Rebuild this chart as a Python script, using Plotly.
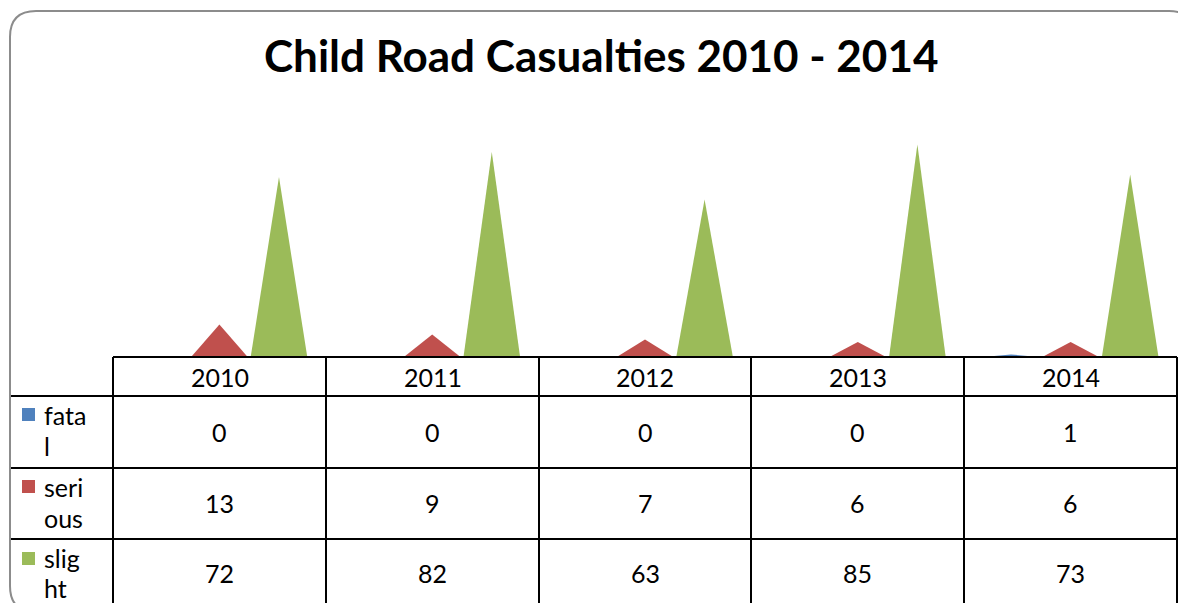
import plotly.graph_objects as go

# ---- data ----
years = ["2010", "2011", "2012", "2013", "2014"]
series_names = ["fatal", "serious", "slight"]
legend_lines = [["fata", "l"], ["seri", "ous"], ["slig", "ht"]]
fatal = [0, 0, 0, 0, 1]
serious = [13, 9, 7, 6, 6]
slight = [72, 82, 63, 85, 73]
title_text = "Child Road Casualties 2010 - 2014"

colors = ["#4F81BD", "#C0504D", "#9BBB59"]
series_values = [fatal, serious, slight]

W, H = 1178, 603
FONT = "Lato"


def px(x):
    return x / W


def py(y):
    return 1 - y / H


fig = go.Figure()

offsets = [-0.28, 0.0, 0.28]
half = 0.133
for vals, color, name, off in zip(series_values, colors, series_names, offsets):
    for i, v in enumerate(vals):
        fig.add_trace(go.Scatter(
            x=[i + off - half, i + off, i + off + half, i + off - half],
            y=[0, v, 0, 0],
            fill="toself", mode="lines",
            line=dict(width=0, color=color), fillcolor=color,
            name=name, showlegend=False, hoverinfo="skip",
        ))

# table geometry (pixels)
col_edges = [113, 326, 539, 751, 964, 1177]
row_edges = [357, 396, 468, 539, 620]

shapes = []
line_style = dict(color="black", width=2)
shapes.append(dict(type="line", xref="paper", yref="paper",
                   x0=px(113), x1=px(1177), y0=py(357), y1=py(357), line=line_style))
for r in row_edges[1:4]:
    shapes.append(dict(type="line", xref="paper", yref="paper",
                       x0=px(10), x1=px(1177), y0=py(r), y1=py(r), line=line_style))
for c in col_edges:
    shapes.append(dict(type="line", xref="paper", yref="paper",
                       x0=px(c), x1=px(c), y0=py(357), y1=py(620), line=line_style))

# rounded frame (extends past the right and bottom edges)
L, T, R, B, rad = 10, 11, 1195, 612, 26
path = (f"M {px(L+rad)},{py(T)} L {px(R-rad)},{py(T)} Q {px(R)},{py(T)} {px(R)},{py(T+rad)} "
        f"L {px(R)},{py(B-rad)} Q {px(R)},{py(B)} {px(R-rad)},{py(B)} "
        f"L {px(L+rad)},{py(B)} Q {px(L)},{py(B)} {px(L)},{py(B-rad)} "
        f"L {px(L)},{py(T+rad)} Q {px(L)},{py(T)} {px(L+rad)},{py(T)} Z")
shapes.append(dict(type="path", xref="paper", yref="paper", path=path,
                   line=dict(color="#8c8c8c", width=2)))

# legend keys
key_tops = [408, 480, 552]
for kt, color in zip(key_tops, colors):
    shapes.append(dict(type="rect", xref="paper", yref="paper",
                       x0=px(22), x1=px(35), y0=py(kt), y1=py(kt + 13),
                       fillcolor=color, line=dict(width=0)))

annotations = []
annotations.append(dict(text=f"<b>{title_text}</b>", xref="paper", yref="paper",
                        x=px(601), y=py(55), xanchor="center", yanchor="middle",
                        showarrow=False, font=dict(family=FONT, size=44, color="black")))

tfont = dict(family=FONT, size=25, color="black")
for j, yr in enumerate(years):
    cx = (col_edges[j] + col_edges[j + 1]) / 2
    annotations.append(dict(text=yr, xref="paper", yref="paper", x=px(cx), y=py(377),
                            xanchor="center", yanchor="middle", showarrow=False, font=tfont))

row_centers = [432, 503, 573]
for vals, rc in zip(series_values, row_centers):
    for j, v in enumerate(vals):
        cx = (col_edges[j] + col_edges[j + 1]) / 2
        annotations.append(dict(text=str(v), xref="paper", yref="paper", x=px(cx), y=py(rc),
                                xanchor="center", yanchor="middle", showarrow=False, font=tfont))

line_centers = [[415, 446], [487, 518], [558, 588]]
for lines, centers in zip(legend_lines, line_centers):
    for t, c in zip(lines, centers):
        annotations.append(dict(text=t, xref="paper", yref="paper", x=px(42), y=py(c),
                                xanchor="left", yanchor="middle", showarrow=False, font=tfont))

fig.update_layout(
    width=W, height=H,
    margin=dict(l=0, r=0, t=0, b=0),
    paper_bgcolor="white", plot_bgcolor="white",
    showlegend=False,
    xaxis=dict(domain=[px(113), px(1177)], range=[-0.5, 4.5], visible=False, fixedrange=True),
    yaxis=dict(domain=[py(357), py(107)], range=[0, 100], visible=False, fixedrange=True),
    shapes=shapes, annotations=annotations,
)

fig.write_html("out.html", config={"displayModeBar": False},
               post_script="document.body.style.margin='0px';document.body.style.overflow='hidden';")
